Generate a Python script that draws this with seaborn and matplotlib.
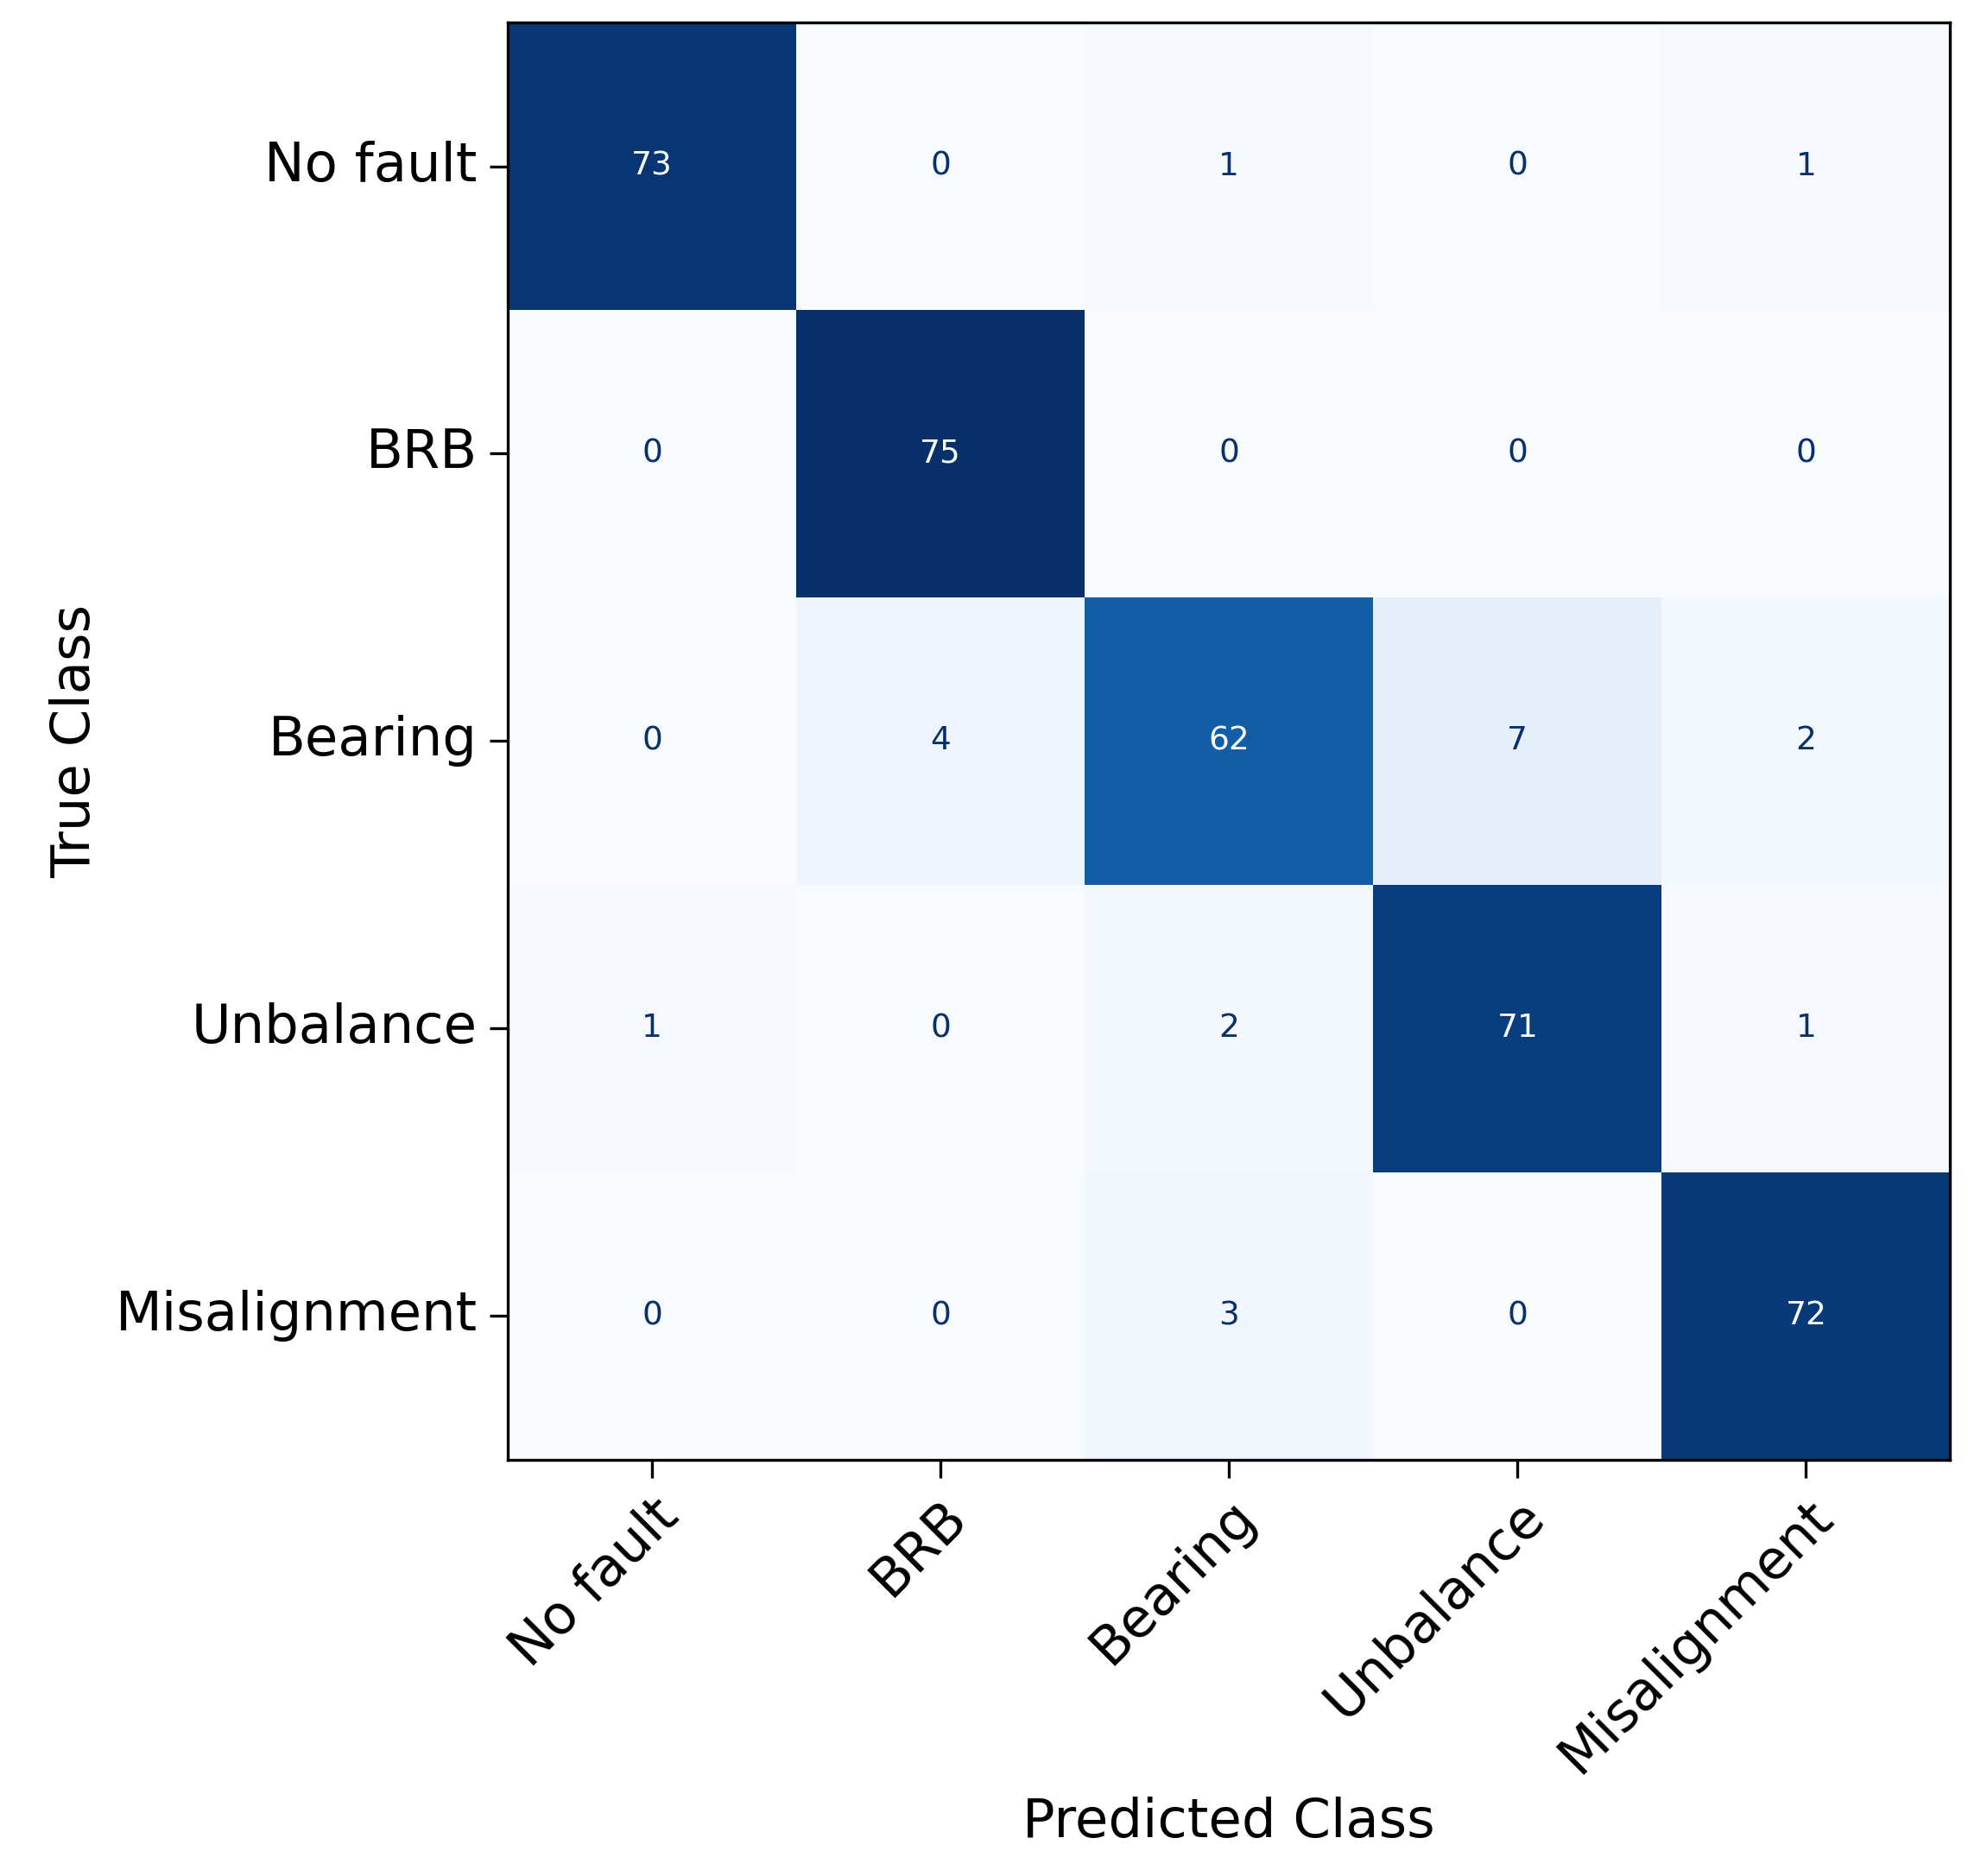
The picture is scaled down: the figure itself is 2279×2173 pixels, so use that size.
import matplotlib
matplotlib.use("Agg")
import matplotlib.pyplot as plt
import numpy as np
import seaborn as sns

classes = ["No fault", "BRB", "Bearing", "Unbalance", "Misalignment"]
row_no_fault = [73, 0, 1, 0, 1]
row_brb = [0, 75, 0, 0, 0]
row_bearing = [0, 4, 62, 7, 2]
row_unbalance = [1, 0, 2, 71, 1]
row_misalignment = [0, 0, 3, 0, 72]

cm = np.array([row_no_fault, row_brb, row_bearing, row_unbalance, row_misalignment])
cmap = plt.get_cmap("Blues")

fig = plt.figure(figsize=(2279 / 300, 2173 / 300), dpi=300)
ax = fig.add_axes([0.258, 0.222, 0.733, 0.766])
sns.heatmap(cm, cmap=cmap, cbar=False, annot=False, square=False, ax=ax)

thresh = (cm.max() + cm.min()) / 2
for i in range(cm.shape[0]):
    for j in range(cm.shape[1]):
        color = cmap(0.0) if cm[i, j] >= thresh else cmap(1.0)
        ax.text(j + 0.5, i + 0.5, str(cm[i, j]), ha="center", va="center",
                color=color, fontsize=9)

for s in ax.spines.values():
    s.set_visible(True)
    s.set_linewidth(0.8)
ax.set_xticks(np.arange(len(classes)) + 0.5)
ax.set_yticks(np.arange(len(classes)) + 0.5)
ax.set_xticklabels(classes, rotation=45, ha="right", rotation_mode="anchor", fontsize=15)
ax.set_yticklabels(classes, rotation=0, fontsize=15)
ax.tick_params(axis="both", length=5, width=0.8)
ax.set_xlabel("Predicted Class", fontsize=15)
ax.set_ylabel("True Class", fontsize=15)

fig.savefig("out.png", dpi=300)
